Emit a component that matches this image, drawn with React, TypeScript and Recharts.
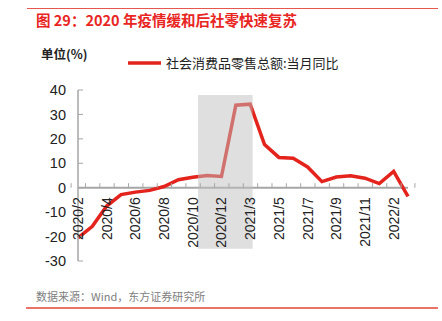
import React from "react";
import {
  LineChart,
  Line,
  XAxis,
  YAxis,
  ReferenceArea,
  ReferenceLine,
  Legend,
} from "recharts";

// monthly data, Jan-Feb reported together
const months = [
  "2020/2", "2020/3", "2020/4", "2020/5", "2020/6", "2020/7", "2020/8", "2020/9",
  "2020/10", "2020/11", "2020/12", "2021/2", "2021/3", "2021/4", "2021/5", "2021/6",
  "2021/7", "2021/8", "2021/9", "2021/10", "2021/11", "2021/12", "2022/2", "2022/3",
];
const retailYoy = [
  -20.5, -15.8, -7.5, -2.8, -1.8, -1.1, 0.5, 3.3,
  4.3, 5.0, 4.6, 33.8, 34.2, 17.7, 12.4, 12.1,
  8.5, 2.5, 4.4, 4.9, 3.9, 1.7, 6.7, -3.5,
];
const yTicks = [-30, -20, -10, 0, 10, 20, 30, 40];
const seriesName = "社会消费品零售总额:当月同比";

// shaded period, in month-index units (0 = 2020/2) on a hidden numeric axis
const shadeFrom = 8.23;
const shadeTo = 12.2;
const shadeLow = -25;
const shadeHigh = 38;

const chartData = months.map((month, i) => ({ month, idx: i, value: retailYoy[i] }));

const W = 442;
const H = 321;
const PLOT_TOP = 90;
const PLOT_LEFT = 78;
const PLOT_RIGHT = 408;
const PLOT_BOTTOM = 261;
const Y_AXIS_W = 40;
const X_AXIS_H = 2;
const PLOT_W = PLOT_RIGHT - PLOT_LEFT;
const PLOT_H = PLOT_BOTTOM - PLOT_TOP;
const BAND = PLOT_W / months.length;
const ZERO_Y = PLOT_TOP + (PLOT_H * yTicks[yTicks.length - 1]) / (yTicks[yTicks.length - 1] - yTicks[0]);

const RED = "#e3231c";
const AXIS_GREY = "#a6a6a6";
const NUM_FONT = "'Liberation Sans', Arial, sans-serif";
const CJK_FONT = "'Noto Sans CJK SC', 'Noto Sans', sans-serif";

function MonthTick(props: any) {
  const { x, payload } = props;
  const i = months.indexOf(payload.value);
  const left = x - BAND / 2;
  return (
    <g>
      <line x1={left} x2={left} y1={ZERO_Y - 4.5} y2={ZERO_Y} stroke={AXIS_GREY} strokeWidth={1} />
      {i === months.length - 1 && (
        <line x1={left + BAND} x2={left + BAND} y1={ZERO_Y - 4.5} y2={ZERO_Y} stroke={AXIS_GREY} strokeWidth={1} />
      )}
      {i % 2 === 0 && (
        <text
          x={x}
          y={ZERO_Y + 9.5}
          transform={`rotate(-90 ${x} ${ZERO_Y + 9.5})`}
          textAnchor="end"
          dominantBaseline="central"
          fontSize={14}
          fontFamily={NUM_FONT}
          fill="#222"
        >
          {payload.value}
        </text>
      )}
    </g>
  );
}

function LegendContent(props: any) {
  const items = props.payload || [];
  return (
    <div>
      {items.map((item: any) => (
        <div key={item.value} style={{ display: "flex", alignItems: "center" }}>
          <svg width={35} height={6} style={{ marginRight: 3 }}>
            <line x1={0} x2={33} y1={3} y2={3} stroke={RED} strokeWidth={3.5} />
          </svg>
          <span style={{ fontSize: 13, fontFamily: CJK_FONT, color: "#222", whiteSpace: "nowrap" }}>
            {item.value}
          </span>
        </div>
      ))}
    </div>
  );
}

export default function App() {
  return (
    <div style={{ position: "absolute", left: 0, top: 0, width: W, height: H, background: "#fff" }}>
      <div style={{ position: "absolute", left: 27, top: 8, width: 411, height: 1, background: "#e5574f" }} />
      <div
        style={{
          position: "absolute",
          left: 36,
          top: 10,
          fontSize: 14.5,
          fontWeight: "bold",
          color: "#e8261f",
          fontFamily: CJK_FONT,
          whiteSpace: "nowrap",
          lineHeight: "20px",
        }}
      >
        图 29：2020 年疫情缓和后社零快速复苏
      </div>
      <div
        style={{
          position: "absolute",
          left: 41,
          top: 45,
          fontSize: 12.5,
          fontWeight: "bold",
          color: "#222",
          fontFamily: CJK_FONT,
          lineHeight: "18px",
        }}
      >
        单位(%)
      </div>

      <LineChart
        width={W}
        height={H}
        data={chartData}
        margin={{ top: PLOT_TOP, left: PLOT_LEFT - Y_AXIS_W, right: W - PLOT_RIGHT, bottom: H - PLOT_BOTTOM - X_AXIS_H }}
        style={{ position: "absolute", left: 0, top: 0 }}
      >
        <XAxis
          dataKey="month"
          height={X_AXIS_H}
          interval={0}
          axisLine={false}
          tickLine={false}
          tickSize={0}
          tickMargin={0}
          tick={<MonthTick />}
        />
        <XAxis
          xAxisId="shade"
          dataKey="idx"
          type="number"
          domain={[-0.5, months.length - 0.5]}
          allowDataOverflow
          hide
        />
        <YAxis
          width={Y_AXIS_W}
          domain={[yTicks[0], yTicks[yTicks.length - 1]]}
          ticks={yTicks}
          interval={0}
          axisLine={{ stroke: AXIS_GREY, strokeWidth: 1.5 }}
          tickLine={{ stroke: AXIS_GREY }}
          tickSize={-5}
          tickMargin={17}
          tick={{ fontSize: 14.5, fontFamily: NUM_FONT, fill: "#222" }}
        />
        <ReferenceLine y={0} stroke={AXIS_GREY} strokeWidth={2} />
        <Legend
          layout="vertical"
          align="center"
          verticalAlign="middle"
          wrapperStyle={{ top: 53, left: 128, width: 260 }}
          content={<LegendContent />}
        />
        <Line
          type="linear"
          dataKey="value"
          name={seriesName}
          stroke={RED}
          strokeWidth={3.5}
          dot={false}
          activeDot={false}
          isAnimationActive={false}
        />
        <ReferenceArea
          xAxisId="shade"
          x1={shadeFrom}
          x2={shadeTo}
          y1={shadeLow}
          y2={shadeHigh}
          fill="#c0c0c0"
          fillOpacity={0.5}
          stroke="none"
          zIndex={1100}
        />
      </LineChart>

      <div
        style={{
          position: "absolute",
          left: 36,
          top: 288,
          fontSize: 11,
          color: "#808080",
          fontFamily: CJK_FONT,
          whiteSpace: "nowrap",
          lineHeight: "16px",
        }}
      >
        数据来源：Wind，东方证券研究所
      </div>
      <div style={{ position: "absolute", left: 26, top: 307, width: 412, height: 2, background: "#ea7468" }} />
    </div>
  );
}
